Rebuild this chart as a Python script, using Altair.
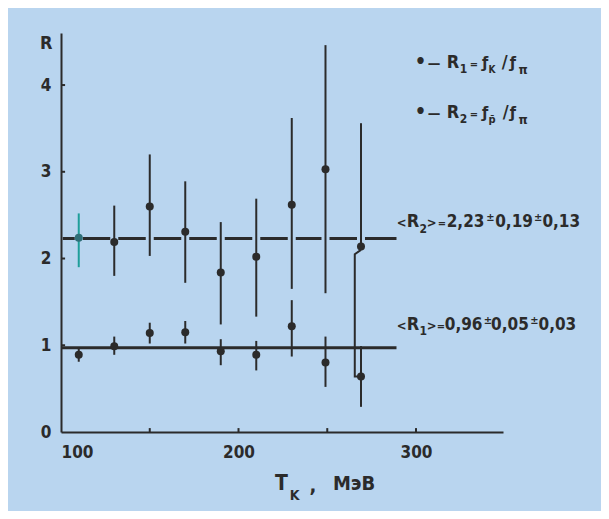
import altair as alt
import pandas as pd

# ---- data ----
T_vals = [110, 130, 150, 170, 190, 210, 230, 249, 269]
R1_vals = [0.89, 0.99, 1.14, 1.15, 0.93, 0.89, 1.22, 0.80, 0.64]
R1_lo = [0.81, 0.89, 1.02, 1.02, 0.77, 0.71, 0.87, 0.52, 0.29]
R1_hi = [0.98, 1.10, 1.26, 1.28, 1.07, 1.05, 1.52, 1.10, 0.99]
R2_vals = [2.24, 2.19, 2.60, 2.31, 1.84, 2.02, 2.62, 3.03, 2.14]
R2_lo = [1.90, 1.80, 2.03, 1.72, 1.24, 1.33, 1.65, 1.60, 2.14]
R2_hi = [2.52, 2.61, 3.20, 2.89, 2.42, 2.69, 3.62, 4.46, 3.56]

mean_names = ["R1", "R2"]
mean_R = [0.97, 2.23]
mean_T_start = [100, 101]
mean_T_end = [289, 289]

bracket_T = [269, 265.5, 265.5, 269]
bracket_R = [2.10, 2.05, 0.64, 0.64]

x_ticks = [150, 200, 250, 300]
y_ticks = [1, 2, 3, 4]
x_labels = [100, 200, 300]
y_labels = [0, 1, 2, 3, 4]

# annotation pieces: text, anchor T, anchor R (data units), font size
ann_text = [
    # legend line 1:  • — R1 = fK / fπ
    "•", "—", "R", "1", "=", "ƒ", "K", "/", "ƒ", "π",
    # legend line 2:  • — R2 = fp̄ / fπ
    "•", "—", "R", "2", "=", "ƒ", "p̄", "/", "ƒ", "π",
    # <R2> = 2,23±0,19±0,13
    "<", "R", "2", ">", "=", "2,23", "±", "0,19", "±", "0,13",
    # <R1> = 0,96±0,05±0,03
    "<", "R", "1", ">", "=", "0,96", "±", "0,05", "±", "0,03",
    # axis names
    "R", "T", "K", ",", "МэВ",
]
ann_T = [
    299.3, 306.6, 317.3, 324.7, 330.3, 337.1, 340.9, 348.3, 352.8, 357.8,
    299.3, 306.6, 317.3, 324.7, 330.3, 337.1, 340.9, 348.9, 352.8, 357.8,
    289.2, 294.8, 301.9, 306.1, 312.3, 317.3, 339.6, 344.6, 366.4, 371.2,
    289.2, 294.8, 301.9, 306.1, 311.7, 316.2, 338.2, 342.3, 364.3, 369.0,
    88.2, 220.5, 228.9, 240.0, 253.2,
]
ann_R = [
    4.196, 4.196, 4.196, 4.139, 4.196, 4.196, 4.139, 4.196, 4.196, 4.128,
    3.620, 3.620, 3.620, 3.562, 3.620, 3.620, 3.562, 3.620, 3.620, 3.550,
    2.367, 2.367, 2.294, 2.367, 2.367, 2.367, 2.433, 2.367, 2.433, 2.367,
    1.176, 1.176, 1.118, 1.176, 1.176, 1.176, 1.245, 1.176, 1.245, 1.176,
    4.415, -0.669, -0.784, -0.690, -0.669,
]
ann_size = [
    20, 14, 18, 12, 11, 16, 10, 18, 16, 13,
    20, 14, 18, 12, 11, 16, 11, 18, 16, 13,
    13, 18, 12, 13, 11, 17, 11, 17, 11, 17,
    13, 18, 12, 13, 11, 17, 11, 17, 11, 17,
    18, 21, 14, 20, 20,
]

BG = "#b9d5ef"
INK = "#2b2b2b"
TEAL = "#1f9e9a"
FONT = "DejaVu Sans Condensed, DejaVu Sans, sans-serif"

pts = pd.DataFrame({
    "T": T_vals * 2,
    "R": R1_vals + R2_vals,
    "lo": R1_lo + R2_lo,
    "hi": R1_hi + R2_hi,
    "series": ["R1"] * len(T_vals) + ["R2"] * len(T_vals),
})
means = pd.DataFrame({"name": mean_names, "R": mean_R, "T0": mean_T_start, "T1": mean_T_end})
bracket = pd.DataFrame({"T": bracket_T, "R": bracket_R, "order": list(range(len(bracket_T)))})
xt = pd.DataFrame({"T": x_ticks})
yt = pd.DataFrame({"R": y_ticks})
ann = pd.DataFrame({"T": ann_T, "R": ann_R, "text": ann_text, "size": ann_size})

xs = alt.Scale(domain=[100, 349], nice=False, zero=False)
ys = alt.Scale(domain=[0, 4.6], nice=False, zero=False)

x_axis = alt.Axis(values=x_labels, ticks=False, grid=False, domainColor=INK, domainWidth=2,
                  labelFont=FONT, labelFontSize=17, labelFontWeight="bold", labelColor=INK,
                  labelPadding=12, format="d", title=None)
y_axis = alt.Axis(values=y_labels, ticks=False, grid=False, domainColor=INK, domainWidth=2,
                  labelFont=FONT, labelFontSize=17, labelFontWeight="bold", labelColor=INK,
                  labelPadding=10, format="d", title=None)

base_axes = alt.Chart(means).mark_rule(strokeWidth=3, color=INK).encode(
    x=alt.X("T0:Q", scale=xs, axis=x_axis),
    x2="T1:Q",
    y=alt.Y("R:Q", scale=ys, axis=y_axis),
)

halo = alt.Chart(pts).transform_filter("datum.series == 'R2'").mark_rule(
    strokeWidth=8, color=BG).encode(
    x=alt.X("T:Q", scale=xs), y=alt.Y("lo:Q", scale=ys), y2="hi:Q")

is_teal = "datum.series == 'R2' && datum.T == 110"
errs = alt.Chart(pts).mark_rule(strokeWidth=2).encode(
    x=alt.X("T:Q", scale=xs), y=alt.Y("lo:Q", scale=ys), y2="hi:Q",
    color=alt.condition(is_teal, alt.value(TEAL), alt.value(INK)),
)

br = alt.Chart(bracket).mark_line(strokeWidth=2, color=INK).encode(
    x=alt.X("T:Q", scale=xs), y=alt.Y("R:Q", scale=ys), order="order:Q")

dots = alt.Chart(pts).mark_circle(size=64, opacity=1).encode(
    x=alt.X("T:Q", scale=xs), y=alt.Y("R:Q", scale=ys),
    color=alt.condition(is_teal, alt.value("#2f6f78"), alt.value(INK)),
)

xtick = alt.Chart(xt).mark_rule(strokeWidth=2, color=INK).encode(
    x=alt.X("T:Q", scale=xs), y=alt.datum(0, scale=ys), y2=alt.datum(0.045))
ytick = alt.Chart(yt).mark_rule(strokeWidth=2, color=INK).encode(
    y=alt.Y("R:Q", scale=ys), x=alt.datum(100, scale=xs), x2=alt.datum(102.3))

texts = alt.Chart(ann).mark_text(align="left", baseline="alphabetic", font=FONT,
                                 fontWeight="bold", color=INK).encode(
    x=alt.X("T:Q", scale=xs), y=alt.Y("R:Q", scale=ys), text="text:N",
    size=alt.Size("size:Q", scale=None, legend=None),
)

chart = alt.layer(base_axes, halo, errs, br, dots, xtick, ytick, texts).properties(
    width=442, height=399, background=BG,
    padding={"left": 53, "top": 25, "right": 98, "bottom": 79},
    autosize=alt.AutoSizeParams(type="none"),
).configure_view(strokeOpacity=0)

chart.save("out.html", embed_options={"renderer": "svg", "actions": False})
